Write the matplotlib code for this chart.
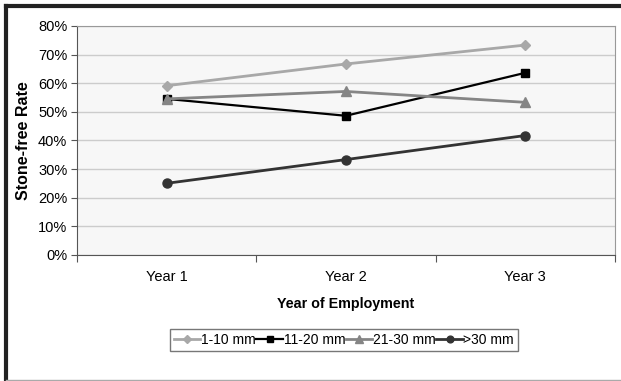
import matplotlib.pyplot as plt
from matplotlib.ticker import FixedLocator, PercentFormatter

plt.rcParams['font.family'] = ['Liberation Sans', 'DejaVu Sans']

# data
years = ['Year 1', 'Year 2', 'Year 3']
size_1_10 = [59.1, 66.7, 73.3]
size_11_20 = [54.5, 48.6, 63.6]
size_21_30 = [54.5, 57.1, 53.3]
size_30_up = [25.0, 33.3, 41.7]

fig = plt.figure(figsize=(6.21, 3.81), dpi=100)
ax = fig.add_axes([0.124, 0.331, 0.866, 0.601])
ax.set_facecolor('#f7f7f7')

x = [0.5, 1.5, 2.5]
ax.plot(x, size_1_10, color='#a8a8a8', lw=2, marker='D', ms=5, label='1-10 mm')
ax.plot(x, size_11_20, color='black', lw=1.6, marker='s', ms=6, label='11-20 mm')
ax.plot(x, size_21_30, color='#858585', lw=2, marker='^', ms=7, label='21-30 mm')
ax.plot(x, size_30_up, color='#333333', lw=2, marker='o', ms=6.5, label='>30 mm')

ax.set_xlim(0, 3)
ax.set_ylim(0, 80)
ax.set_yticks(range(0, 81, 10))
ax.yaxis.set_major_formatter(PercentFormatter(decimals=0))
ax.set_xticks([0, 1, 2, 3])
ax.set_xticklabels([])
ax.xaxis.set_minor_locator(FixedLocator(x))
ax.set_xticklabels(years, minor=True)
ax.tick_params(axis='x', which='minor', length=0, pad=11, labelsize=10.5)
ax.tick_params(axis='x', which='major', length=5, direction='out', color='#555555')
ax.tick_params(axis='y', length=4, color='#555555', labelsize=10.5, pad=3)
ax.grid(axis='y', color='#cccccc', lw=1)
ax.set_axisbelow(True)

for s in ['top', 'right']:
    ax.spines[s].set_color('#999999')
for s in ['left', 'bottom']:
    ax.spines[s].set_color('#555555')

ax.set_ylabel('Stone-free Rate', fontweight='bold', fontsize=11.5, labelpad=5)
ax.set_xlabel('Year of Employment', fontweight='bold', fontsize=10.3, labelpad=9)

leg = fig.legend(loc='center', bbox_to_anchor=(0.554, 0.107), ncol=4, fontsize=10,
                 frameon=True, fancybox=False, handlelength=1.9, handletextpad=0.05,
                 columnspacing=0.05, borderpad=0.3, borderaxespad=0, markerscale=0.75)
leg.get_frame().set_edgecolor('#555555')
leg.get_frame().set_linewidth(1)

# outer border: thick top/left, thin bottom
fig.add_artist(plt.Line2D([0.009, 0.009], [0.002, 0.985], color='#222222', lw=3, transform=fig.transFigure))
fig.add_artist(plt.Line2D([0.009, 1.0], [0.985, 0.985], color='#222222', lw=3, transform=fig.transFigure))
fig.add_artist(plt.Line2D([0.009, 1.0], [0.003, 0.003], color='#aaaaaa', lw=1, transform=fig.transFigure))

fig.savefig('out.png', dpi=100)
